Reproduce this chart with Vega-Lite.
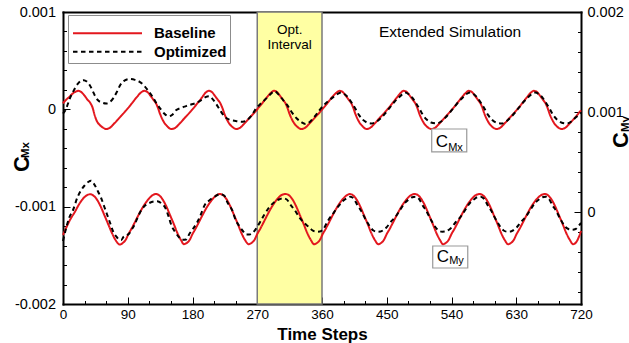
{
  "$schema": "https://vega.github.io/schema/vega-lite/v6.json",
  "description": "Moment coefficients CMx (left axis) and CMy (right axis) of the baseline and optimized runs over 720 time steps.",
  "width": 518,
  "height": 292,
  "autosize": {"type": "none"},
  "padding": {"left": 63, "top": 12, "right": 48, "bottom": 39},
  "config": {
    "view": {"stroke": null},
    "font": "Liberation Sans",
    "text": {"font": "Liberation Sans", "color": "black"},
    "axis": {
      "domainColor": "black", "domainWidth": 2, "domainCap": "square",
      "tickColor": "black", "tickWidth": 1,
      "labelColor": "black", "labelFont": "Liberation Sans", "labelFontSize": 13.5,
      "labelFlush": false, "labelOverlap": false, "grid": false, "zindex": 1,
      "titleColor": "black", "titleFont": "Liberation Sans"
    },
    "legend": {
      "orient": "none", "legendX": 5, "legendY": 3,
      "symbolType": "stroke", "symbolSize": 4761, "symbolStrokeWidth": 2,
      "clipHeight": 16, "rowPadding": 2.4, "padding": 3,
      "symbolOffset": 1, "labelOffset": 11,
      "labelFont": "Liberation Sans", "labelFontSize": 15, "labelFontWeight": "bold", "labelColor": "black",
      "titleFontSize": 4, "titlePadding": 3.3,
      "fillColor": "white", "strokeColor": "#8c8c8c"
    }
  },
  "datasets": {
    "cmx": [
      {"s":"Baseline","t":0,"v":0.000062},{"s":"Baseline","t":4,"v":0.000095},{"s":"Baseline","t":9,"v":0.00013},{"s":"Baseline","t":14,"v":0.000165},{"s":"Baseline","t":18,"v":0.000183},{"s":"Baseline","t":21,"v":0.00019},{"s":"Baseline","t":25,"v":0.00018},{"s":"Baseline","t":30,"v":0.00014},{"s":"Baseline","t":34,"v":0.0001},{"s":"Baseline","t":38,"v":0.000065},{"s":"Baseline","t":41,"v":0.00002},{"s":"Baseline","t":44,"v":-0.00006},{"s":"Baseline","t":47,"v":-0.00012},{"s":"Baseline","t":51,"v":-0.00016},{"s":"Baseline","t":55,"v":-0.000185},{"s":"Baseline","t":60,"v":-0.000202},{"s":"Baseline","t":65,"v":-0.00019},{"s":"Baseline","t":70,"v":-0.000155},{"s":"Baseline","t":78,"v":-0.00009},{"s":"Baseline","t":86,"v":-0.000025},{"s":"Baseline","t":94,"v":0.000045},{"s":"Baseline","t":102,"v":0.00012},{"s":"Baseline","t":108,"v":0.00017},
      {"s":"Baseline","t":113,"v":0.00019},{"s":"Baseline","t":117,"v":0.00018},{"s":"Baseline","t":122,"v":0.000135},{"s":"Baseline","t":126,"v":0.000095},{"s":"Baseline","t":129,"v":0.000065},{"s":"Baseline","t":132,"v":0.000015},{"s":"Baseline","t":135,"v":-0.00005},{"s":"Baseline","t":138,"v":-0.0001},{"s":"Baseline","t":141,"v":-0.00014},{"s":"Baseline","t":145,"v":-0.000175},{"s":"Baseline","t":148,"v":-0.000195},{"s":"Baseline","t":151,"v":-0.000202},{"s":"Baseline","t":156,"v":-0.00019},{"s":"Baseline","t":161,"v":-0.000155},{"s":"Baseline","t":169,"v":-0.00009},{"s":"Baseline","t":177,"v":-0.000025},{"s":"Baseline","t":185,"v":0.000045},{"s":"Baseline","t":193,"v":0.00012},{"s":"Baseline","t":198,"v":0.00017},
      {"s":"Baseline","t":202.5,"v":0.00019},{"s":"Baseline","t":206.5,"v":0.00018},{"s":"Baseline","t":211.5,"v":0.000135},{"s":"Baseline","t":215.5,"v":0.000095},{"s":"Baseline","t":218.5,"v":0.000065},{"s":"Baseline","t":221.5,"v":0.000015},{"s":"Baseline","t":224.5,"v":-0.00005},{"s":"Baseline","t":227.5,"v":-0.0001},{"s":"Baseline","t":230.5,"v":-0.00014},{"s":"Baseline","t":234.5,"v":-0.000175},{"s":"Baseline","t":238,"v":-0.000195},{"s":"Baseline","t":241,"v":-0.000202},{"s":"Baseline","t":246,"v":-0.00019},{"s":"Baseline","t":251,"v":-0.000155},{"s":"Baseline","t":259,"v":-0.00009},{"s":"Baseline","t":267,"v":-0.000025},{"s":"Baseline","t":275,"v":0.000045},{"s":"Baseline","t":283,"v":0.00012},{"s":"Baseline","t":289,"v":0.00017},
      {"s":"Baseline","t":293,"v":0.00019},{"s":"Baseline","t":297,"v":0.00018},{"s":"Baseline","t":302,"v":0.000135},{"s":"Baseline","t":306,"v":0.000095},{"s":"Baseline","t":309,"v":0.000065},{"s":"Baseline","t":312,"v":0.000015},{"s":"Baseline","t":315,"v":-0.00005},{"s":"Baseline","t":318,"v":-0.0001},{"s":"Baseline","t":321,"v":-0.00014},{"s":"Baseline","t":325,"v":-0.000175},{"s":"Baseline","t":328.5,"v":-0.000195},{"s":"Baseline","t":331.5,"v":-0.000202},{"s":"Baseline","t":336.5,"v":-0.00019},{"s":"Baseline","t":341.5,"v":-0.000155},{"s":"Baseline","t":349.5,"v":-0.00009},{"s":"Baseline","t":357.5,"v":-0.000025},{"s":"Baseline","t":365.5,"v":0.000045},{"s":"Baseline","t":373.5,"v":0.00012},{"s":"Baseline","t":380,"v":0.00017},
      {"s":"Baseline","t":384.5,"v":0.00019},{"s":"Baseline","t":388.5,"v":0.00018},{"s":"Baseline","t":393.5,"v":0.000135},{"s":"Baseline","t":397.5,"v":0.000095},{"s":"Baseline","t":400.5,"v":0.000065},{"s":"Baseline","t":403.5,"v":0.000015},{"s":"Baseline","t":406.5,"v":-0.00005},{"s":"Baseline","t":409.5,"v":-0.0001},{"s":"Baseline","t":412.5,"v":-0.00014},{"s":"Baseline","t":416.5,"v":-0.000175},{"s":"Baseline","t":419.5,"v":-0.000195},{"s":"Baseline","t":422,"v":-0.000202},{"s":"Baseline","t":427,"v":-0.00019},{"s":"Baseline","t":432,"v":-0.000155},{"s":"Baseline","t":440,"v":-0.00009},{"s":"Baseline","t":448,"v":-0.000025},{"s":"Baseline","t":456,"v":0.000045},{"s":"Baseline","t":464,"v":0.00012},{"s":"Baseline","t":469.5,"v":0.00017},
      {"s":"Baseline","t":473.5,"v":0.00019},{"s":"Baseline","t":477.5,"v":0.00018},{"s":"Baseline","t":482.5,"v":0.000135},{"s":"Baseline","t":486.5,"v":0.000095},{"s":"Baseline","t":489.5,"v":0.000065},{"s":"Baseline","t":492.5,"v":0.000015},{"s":"Baseline","t":495.5,"v":-0.00005},{"s":"Baseline","t":498.5,"v":-0.0001},{"s":"Baseline","t":501.5,"v":-0.00014},{"s":"Baseline","t":505.5,"v":-0.000175},{"s":"Baseline","t":509,"v":-0.000195},{"s":"Baseline","t":512,"v":-0.000202},{"s":"Baseline","t":517,"v":-0.00019},{"s":"Baseline","t":522,"v":-0.000155},{"s":"Baseline","t":530,"v":-0.00009},{"s":"Baseline","t":538,"v":-0.000025},{"s":"Baseline","t":546,"v":0.000045},{"s":"Baseline","t":554,"v":0.00012},{"s":"Baseline","t":560,"v":0.00017},
      {"s":"Baseline","t":564,"v":0.00019},{"s":"Baseline","t":568,"v":0.00018},{"s":"Baseline","t":573,"v":0.000135},{"s":"Baseline","t":577,"v":0.000095},{"s":"Baseline","t":580,"v":0.000065},{"s":"Baseline","t":583,"v":0.000015},{"s":"Baseline","t":586,"v":-0.00005},{"s":"Baseline","t":589,"v":-0.0001},{"s":"Baseline","t":592,"v":-0.00014},{"s":"Baseline","t":596,"v":-0.000175},{"s":"Baseline","t":599.5,"v":-0.000195},{"s":"Baseline","t":602.5,"v":-0.000202},{"s":"Baseline","t":607.5,"v":-0.00019},{"s":"Baseline","t":612.5,"v":-0.000155},{"s":"Baseline","t":620.5,"v":-0.00009},{"s":"Baseline","t":628.5,"v":-0.000025},{"s":"Baseline","t":636.5,"v":0.000045},{"s":"Baseline","t":644.5,"v":0.00012},{"s":"Baseline","t":650,"v":0.00017},
      {"s":"Baseline","t":654.5,"v":0.00019},{"s":"Baseline","t":658.5,"v":0.00018},{"s":"Baseline","t":663.5,"v":0.000135},{"s":"Baseline","t":667.5,"v":0.000095},{"s":"Baseline","t":670.5,"v":0.000065},{"s":"Baseline","t":673.5,"v":0.000015},{"s":"Baseline","t":676.5,"v":-0.00005},{"s":"Baseline","t":679.5,"v":-0.0001},{"s":"Baseline","t":682.5,"v":-0.00014},{"s":"Baseline","t":686.5,"v":-0.000175},{"s":"Baseline","t":690,"v":-0.000195},{"s":"Baseline","t":693,"v":-0.000202},{"s":"Baseline","t":698,"v":-0.00019},{"s":"Baseline","t":703,"v":-0.000155},{"s":"Baseline","t":711,"v":-0.00009},{"s":"Baseline","t":720,"v":-0.00001},

      {"s":"Optimized","t":0,"v":-0.000045},{"s":"Optimized","t":4,"v":0},{"s":"Optimized","t":7,"v":0.00006},{"s":"Optimized","t":10,"v":0.00012},{"s":"Optimized","t":14,"v":0.00018},{"s":"Optimized","t":18,"v":0.000235},{"s":"Optimized","t":22,"v":0.000275},{"s":"Optimized","t":26,"v":0.000297},{"s":"Optimized","t":29,"v":0.0003},{"s":"Optimized","t":33,"v":0.000285},{"s":"Optimized","t":37,"v":0.00025},{"s":"Optimized","t":41,"v":0.000195},{"s":"Optimized","t":45,"v":0.00013},{"s":"Optimized","t":49,"v":0.00009},{"s":"Optimized","t":54,"v":0.00007},{"s":"Optimized","t":60,"v":0.00006},{"s":"Optimized","t":65,"v":0.000075},{"s":"Optimized","t":70,"v":0.000115},{"s":"Optimized","t":75,"v":0.00018},{"s":"Optimized","t":80,"v":0.000255},{"s":"Optimized","t":86,"v":0.000298},{"s":"Optimized","t":92,"v":0.000312},{"s":"Optimized","t":100,"v":0.000303},{"s":"Optimized","t":106,"v":0.000285},{"s":"Optimized","t":112,"v":0.00025},{"s":"Optimized","t":118,"v":0.000195},{"s":"Optimized","t":124,"v":0.000135},{"s":"Optimized","t":130,"v":0.00006},{"s":"Optimized","t":136,"v":0},{"s":"Optimized","t":141,"v":-0.000045},{"s":"Optimized","t":147,"v":-0.000072},{"s":"Optimized","t":152,"v":-0.000055},{"s":"Optimized","t":157,"v":-0.00001},{"s":"Optimized","t":164,"v":0.000015},{"s":"Optimized","t":171,"v":0.000033},{"s":"Optimized","t":178,"v":0.00005},{"s":"Optimized","t":185,"v":0.000065},{"s":"Optimized","t":192,"v":0.000095},{"s":"Optimized","t":198,"v":0.000125},{"s":"Optimized","t":203,"v":0.000135},{"s":"Optimized","t":208,"v":0.000105},{"s":"Optimized","t":213,"v":0.000055},{"s":"Optimized","t":218,"v":-0.000005},{"s":"Optimized","t":224,"v":-0.00007},{"s":"Optimized","t":231,"v":-0.000105},{"s":"Optimized","t":240,"v":-0.00012},{"s":"Optimized","t":250,"v":-0.000127},{"s":"Optimized","t":256,"v":-0.00011},{"s":"Optimized","t":262,"v":-0.000065},{"s":"Optimized","t":268,"v":0.000005},{"s":"Optimized","t":275,"v":0.00006},{"s":"Optimized","t":283,"v":0.000115},{"s":"Optimized","t":289,"v":0.00016},{"s":"Optimized","t":294,"v":0.000185},{"s":"Optimized","t":300,"v":0.00015},{"s":"Optimized","t":306,"v":0.000095},{"s":"Optimized","t":312,"v":0.00004},{"s":"Optimized","t":318,"v":-0.00003},{"s":"Optimized","t":325,"v":-0.000095},{"s":"Optimized","t":331,"v":-0.00013},{"s":"Optimized","t":337,"v":-0.00015},{"s":"Optimized","t":343,"v":-0.00013},{"s":"Optimized","t":348,"v":-0.00009},{"s":"Optimized","t":353,"v":-0.000045},{"s":"Optimized","t":358,"v":0.000005},{"s":"Optimized","t":365,"v":0.00006},{"s":"Optimized","t":373,"v":0.00011},{"s":"Optimized","t":380,"v":0.00015},
      {"s":"Optimized","t":386.5,"v":0.000172},{"s":"Optimized","t":391.5,"v":0.000155},{"s":"Optimized","t":396.5,"v":0.00012},{"s":"Optimized","t":401.5,"v":0.000065},{"s":"Optimized","t":406.5,"v":0.000005},{"s":"Optimized","t":411.5,"v":-0.00006},{"s":"Optimized","t":416.5,"v":-0.000105},{"s":"Optimized","t":422.5,"v":-0.000135},{"s":"Optimized","t":428,"v":-0.000145},{"s":"Optimized","t":435,"v":-0.00013},{"s":"Optimized","t":442.5,"v":-0.000085},{"s":"Optimized","t":448.5,"v":-0.000035},{"s":"Optimized","t":454.5,"v":0.00002},{"s":"Optimized","t":460.5,"v":0.000075},{"s":"Optimized","t":466.5,"v":0.00012},{"s":"Optimized","t":472.5,"v":0.00016},
      {"s":"Optimized","t":475.5,"v":0.000172},{"s":"Optimized","t":480.5,"v":0.000155},{"s":"Optimized","t":485.5,"v":0.00012},{"s":"Optimized","t":490.5,"v":0.000065},{"s":"Optimized","t":495.5,"v":0.000005},{"s":"Optimized","t":500.5,"v":-0.00006},{"s":"Optimized","t":505.5,"v":-0.000105},{"s":"Optimized","t":511.5,"v":-0.000135},{"s":"Optimized","t":519.5,"v":-0.000145},{"s":"Optimized","t":525.5,"v":-0.000125},{"s":"Optimized","t":531.5,"v":-0.000085},{"s":"Optimized","t":537.5,"v":-0.000035},{"s":"Optimized","t":543.5,"v":0.00002},{"s":"Optimized","t":549.5,"v":0.000075},{"s":"Optimized","t":555.5,"v":0.00012},{"s":"Optimized","t":561.5,"v":0.00016},
      {"s":"Optimized","t":566,"v":0.000172},{"s":"Optimized","t":571,"v":0.000155},{"s":"Optimized","t":576,"v":0.00012},{"s":"Optimized","t":581,"v":0.000065},{"s":"Optimized","t":586,"v":0.000005},{"s":"Optimized","t":591,"v":-0.00006},{"s":"Optimized","t":596,"v":-0.000105},{"s":"Optimized","t":602,"v":-0.000135},{"s":"Optimized","t":610,"v":-0.000145},{"s":"Optimized","t":616,"v":-0.000125},{"s":"Optimized","t":622,"v":-0.000085},{"s":"Optimized","t":628,"v":-0.000035},{"s":"Optimized","t":634,"v":0.00002},{"s":"Optimized","t":640,"v":0.000075},{"s":"Optimized","t":646,"v":0.00012},{"s":"Optimized","t":652,"v":0.00016},
      {"s":"Optimized","t":656.5,"v":0.000172},{"s":"Optimized","t":661.5,"v":0.000155},{"s":"Optimized","t":666.5,"v":0.00012},{"s":"Optimized","t":671.5,"v":0.000065},{"s":"Optimized","t":676.5,"v":0.000005},{"s":"Optimized","t":681.5,"v":-0.00006},{"s":"Optimized","t":686.5,"v":-0.000105},{"s":"Optimized","t":692.5,"v":-0.000135},{"s":"Optimized","t":700.5,"v":-0.000145},{"s":"Optimized","t":706.5,"v":-0.000125},{"s":"Optimized","t":712.5,"v":-0.000085},{"s":"Optimized","t":720,"v":-0.000035}
    ],
    "cmy": [
      {"s":"Baseline","t":0,"v":-0.00023},{"s":"Baseline","t":5,"v":-0.00015},{"s":"Baseline","t":10,"v":-0.000075},{"s":"Baseline","t":16,"v":-0.000005},{"s":"Baseline","t":23,"v":0.000085},{"s":"Baseline","t":30,"v":0.00015},{"s":"Baseline","t":38,"v":0.000178},{"s":"Baseline","t":43,"v":0.00016},{"s":"Baseline","t":48,"v":0.000115},{"s":"Baseline","t":53,"v":0.000045},{"s":"Baseline","t":58,"v":-0.00004},{"s":"Baseline","t":63,"v":-0.000125},{"s":"Baseline","t":68,"v":-0.00021},{"s":"Baseline","t":73,"v":-0.00028},{"s":"Baseline","t":79,"v":-0.000325},{"s":"Baseline","t":83,"v":-0.00031},{"s":"Baseline","t":87,"v":-0.00028},{"s":"Baseline","t":91,"v":-0.00022},{"s":"Baseline","t":95,"v":-0.00017},{"s":"Baseline","t":99,"v":-0.000115},{"s":"Baseline","t":105,"v":-0.00003},{"s":"Baseline","t":112,"v":0.00006},{"s":"Baseline","t":119,"v":0.00013},{"s":"Baseline","t":125,"v":0.00017},
      {"s":"Baseline","t":129,"v":0.00018},{"s":"Baseline","t":134,"v":0.000165},{"s":"Baseline","t":139,"v":0.00012},{"s":"Baseline","t":144,"v":0.00005},{"s":"Baseline","t":149,"v":-0.000035},{"s":"Baseline","t":154,"v":-0.00012},{"s":"Baseline","t":159,"v":-0.00021},{"s":"Baseline","t":164,"v":-0.00028},{"s":"Baseline","t":168,"v":-0.000322},{"s":"Baseline","t":172,"v":-0.00031},{"s":"Baseline","t":176,"v":-0.00028},{"s":"Baseline","t":180,"v":-0.00022},{"s":"Baseline","t":184,"v":-0.00017},{"s":"Baseline","t":188,"v":-0.000115},{"s":"Baseline","t":194,"v":-0.00003},{"s":"Baseline","t":201,"v":0.00006},{"s":"Baseline","t":208,"v":0.00013},{"s":"Baseline","t":214,"v":0.00017},
      {"s":"Baseline","t":218,"v":0.00018},{"s":"Baseline","t":223,"v":0.000165},{"s":"Baseline","t":228,"v":0.00012},{"s":"Baseline","t":233,"v":0.00005},{"s":"Baseline","t":238,"v":-0.000035},{"s":"Baseline","t":243,"v":-0.00012},{"s":"Baseline","t":248,"v":-0.00021},{"s":"Baseline","t":253,"v":-0.00028},{"s":"Baseline","t":258,"v":-0.000322},{"s":"Baseline","t":262,"v":-0.00031},{"s":"Baseline","t":266,"v":-0.00028},{"s":"Baseline","t":270,"v":-0.00022},{"s":"Baseline","t":274,"v":-0.00017},{"s":"Baseline","t":278,"v":-0.000115},{"s":"Baseline","t":284,"v":-0.00003},{"s":"Baseline","t":291,"v":0.00006},{"s":"Baseline","t":298,"v":0.00013},{"s":"Baseline","t":304,"v":0.00017},
      {"s":"Baseline","t":309.5,"v":0.00018},{"s":"Baseline","t":314.5,"v":0.000165},{"s":"Baseline","t":319.5,"v":0.00012},{"s":"Baseline","t":324.5,"v":0.00005},{"s":"Baseline","t":329.5,"v":-0.000035},{"s":"Baseline","t":334.5,"v":-0.00012},{"s":"Baseline","t":339.5,"v":-0.00021},{"s":"Baseline","t":344.5,"v":-0.00028},{"s":"Baseline","t":349,"v":-0.000322},{"s":"Baseline","t":353,"v":-0.00031},{"s":"Baseline","t":357,"v":-0.00028},{"s":"Baseline","t":361,"v":-0.00022},{"s":"Baseline","t":365,"v":-0.00017},{"s":"Baseline","t":369,"v":-0.000115},{"s":"Baseline","t":375,"v":-0.00003},{"s":"Baseline","t":382,"v":0.00006},{"s":"Baseline","t":389,"v":0.00013},{"s":"Baseline","t":395,"v":0.00017},
      {"s":"Baseline","t":398.5,"v":0.00018},{"s":"Baseline","t":403.5,"v":0.000165},{"s":"Baseline","t":408.5,"v":0.00012},{"s":"Baseline","t":413.5,"v":0.00005},{"s":"Baseline","t":418.5,"v":-0.000035},{"s":"Baseline","t":423.5,"v":-0.00012},{"s":"Baseline","t":428.5,"v":-0.00021},{"s":"Baseline","t":433.5,"v":-0.00028},{"s":"Baseline","t":438,"v":-0.000322},{"s":"Baseline","t":442,"v":-0.00031},{"s":"Baseline","t":446,"v":-0.00028},{"s":"Baseline","t":450,"v":-0.00022},{"s":"Baseline","t":454,"v":-0.00017},{"s":"Baseline","t":458,"v":-0.000115},{"s":"Baseline","t":464,"v":-0.00003},{"s":"Baseline","t":471,"v":0.00006},{"s":"Baseline","t":478,"v":0.00013},{"s":"Baseline","t":484,"v":0.00017},
      {"s":"Baseline","t":489,"v":0.00018},{"s":"Baseline","t":494,"v":0.000165},{"s":"Baseline","t":499,"v":0.00012},{"s":"Baseline","t":504,"v":0.00005},{"s":"Baseline","t":509,"v":-0.000035},{"s":"Baseline","t":514,"v":-0.00012},{"s":"Baseline","t":519,"v":-0.00021},{"s":"Baseline","t":524,"v":-0.00028},{"s":"Baseline","t":528,"v":-0.000322},{"s":"Baseline","t":532,"v":-0.00031},{"s":"Baseline","t":536,"v":-0.00028},{"s":"Baseline","t":540,"v":-0.00022},{"s":"Baseline","t":544,"v":-0.00017},{"s":"Baseline","t":548,"v":-0.000115},{"s":"Baseline","t":554,"v":-0.00003},{"s":"Baseline","t":561,"v":0.00006},{"s":"Baseline","t":568,"v":0.00013},{"s":"Baseline","t":574,"v":0.00017},
      {"s":"Baseline","t":579,"v":0.00018},{"s":"Baseline","t":584,"v":0.000165},{"s":"Baseline","t":589,"v":0.00012},{"s":"Baseline","t":594,"v":0.00005},{"s":"Baseline","t":599,"v":-0.000035},{"s":"Baseline","t":604,"v":-0.00012},{"s":"Baseline","t":609,"v":-0.00021},{"s":"Baseline","t":614,"v":-0.00028},{"s":"Baseline","t":618.5,"v":-0.000322},{"s":"Baseline","t":622.5,"v":-0.00031},{"s":"Baseline","t":626.5,"v":-0.00028},{"s":"Baseline","t":630.5,"v":-0.00022},{"s":"Baseline","t":634.5,"v":-0.00017},{"s":"Baseline","t":638.5,"v":-0.000115},{"s":"Baseline","t":644.5,"v":-0.00003},{"s":"Baseline","t":651.5,"v":0.00006},{"s":"Baseline","t":658.5,"v":0.00013},{"s":"Baseline","t":665,"v":0.00017},
      {"s":"Baseline","t":669.5,"v":0.00018},{"s":"Baseline","t":674.5,"v":0.000165},{"s":"Baseline","t":679.5,"v":0.00012},{"s":"Baseline","t":684.5,"v":0.00005},{"s":"Baseline","t":689.5,"v":-0.000035},{"s":"Baseline","t":694.5,"v":-0.00012},{"s":"Baseline","t":699.5,"v":-0.00021},{"s":"Baseline","t":704.5,"v":-0.00028},{"s":"Baseline","t":709,"v":-0.000322},{"s":"Baseline","t":713,"v":-0.000305},{"s":"Baseline","t":717,"v":-0.00025},{"s":"Baseline","t":720,"v":-0.00019},

      {"s":"Optimized","t":0,"v":-0.00029},{"s":"Optimized","t":4,"v":-0.00017},{"s":"Optimized","t":9,"v":-0.00005},{"s":"Optimized","t":14,"v":0.00002},{"s":"Optimized","t":20,"v":0.000145},{"s":"Optimized","t":25,"v":0.000215},{"s":"Optimized","t":30,"v":0.000265},{"s":"Optimized","t":35,"v":0.0003},{"s":"Optimized","t":39,"v":0.000313},{"s":"Optimized","t":44,"v":0.00027},{"s":"Optimized","t":49,"v":0.0002},{"s":"Optimized","t":53,"v":0.00014},{"s":"Optimized","t":57,"v":0.00006},{"s":"Optimized","t":61,"v":-0.00002},{"s":"Optimized","t":65,"v":-0.0001},{"s":"Optimized","t":70,"v":-0.0002},{"s":"Optimized","t":74,"v":-0.000245},{"s":"Optimized","t":78,"v":-0.000275},{"s":"Optimized","t":81,"v":-0.00028},{"s":"Optimized","t":84,"v":-0.00025},{"s":"Optimized","t":88,"v":-0.000235},{"s":"Optimized","t":92,"v":-0.000215},{"s":"Optimized","t":96,"v":-0.00017},{"s":"Optimized","t":100,"v":-0.00012},{"s":"Optimized","t":104,"v":-0.00005},{"s":"Optimized","t":109,"v":0.00002},{"s":"Optimized","t":114,"v":0.000065},{"s":"Optimized","t":120,"v":0.00009},{"s":"Optimized","t":126,"v":0.000105},{"s":"Optimized","t":131,"v":0.000108},{"s":"Optimized","t":137,"v":0.000085},{"s":"Optimized","t":142,"v":0.000045},{"s":"Optimized","t":147,"v":-0.00005},{"s":"Optimized","t":151,"v":-0.00014},{"s":"Optimized","t":156,"v":-0.0002},{"s":"Optimized","t":161,"v":-0.00025},{"s":"Optimized","t":166,"v":-0.000278},{"s":"Optimized","t":171,"v":-0.000275},{"s":"Optimized","t":176,"v":-0.000215},{"s":"Optimized","t":181,"v":-0.000165},{"s":"Optimized","t":186,"v":-0.00011},{"s":"Optimized","t":191,"v":-0.000035},{"s":"Optimized","t":197,"v":0.00007},{"s":"Optimized","t":204,"v":0.00012},{"s":"Optimized","t":211,"v":0.000155},{"s":"Optimized","t":218,"v":0.000178},{"s":"Optimized","t":224,"v":0.000165},{"s":"Optimized","t":229,"v":0.00009},{"s":"Optimized","t":235,"v":0.00002},{"s":"Optimized","t":240,"v":-0.00008},{"s":"Optimized","t":245,"v":-0.00014},{"s":"Optimized","t":250,"v":-0.00019},{"s":"Optimized","t":255,"v":-0.000225},{"s":"Optimized","t":259,"v":-0.000225},{"s":"Optimized","t":263,"v":-0.000213},{"s":"Optimized","t":268,"v":-0.00017},{"s":"Optimized","t":274,"v":-0.0001},{"s":"Optimized","t":280,"v":-0.000025},{"s":"Optimized","t":287,"v":0.00005},{"s":"Optimized","t":294,"v":0.0001},{"s":"Optimized","t":300,"v":0.000125},{"s":"Optimized","t":306,"v":0.000137},{"s":"Optimized","t":311,"v":0.000125},{"s":"Optimized","t":316,"v":0.000075},{"s":"Optimized","t":322,"v":0.00002},{"s":"Optimized","t":328,"v":-0.00005},{"s":"Optimized","t":334,"v":-0.0001},{"s":"Optimized","t":340,"v":-0.00014},{"s":"Optimized","t":346,"v":-0.00018},{"s":"Optimized","t":352,"v":-0.000197},{"s":"Optimized","t":357,"v":-0.000195},{"s":"Optimized","t":362,"v":-0.00017},{"s":"Optimized","t":368,"v":-0.00009},{"s":"Optimized","t":375,"v":-0.00002},{"s":"Optimized","t":382,"v":0.00005},{"s":"Optimized","t":389,"v":0.00011},{"s":"Optimized","t":395,"v":0.00014},
      {"s":"Optimized","t":399.5,"v":0.000153},{"s":"Optimized","t":404.5,"v":0.00013},{"s":"Optimized","t":409.5,"v":0.000065},{"s":"Optimized","t":414.5,"v":0.00001},{"s":"Optimized","t":419.5,"v":-0.00006},{"s":"Optimized","t":423.5,"v":-0.00011},{"s":"Optimized","t":427.5,"v":-0.000155},{"s":"Optimized","t":431.5,"v":-0.000185},{"s":"Optimized","t":436.5,"v":-0.000197},{"s":"Optimized","t":441.5,"v":-0.000195},{"s":"Optimized","t":445.5,"v":-0.00018},{"s":"Optimized","t":449.5,"v":-0.000155},{"s":"Optimized","t":455.5,"v":-0.0001},{"s":"Optimized","t":462.5,"v":-0.000045},{"s":"Optimized","t":468.5,"v":0.00002},{"s":"Optimized","t":474.5,"v":0.000085},{"s":"Optimized","t":480.5,"v":0.000125},{"s":"Optimized","t":485.5,"v":0.000148},
      {"s":"Optimized","t":490,"v":0.000153},{"s":"Optimized","t":495,"v":0.00013},{"s":"Optimized","t":500,"v":0.000065},{"s":"Optimized","t":505,"v":0.00001},{"s":"Optimized","t":510,"v":-0.00006},{"s":"Optimized","t":514,"v":-0.00011},{"s":"Optimized","t":518,"v":-0.000155},{"s":"Optimized","t":522,"v":-0.000185},{"s":"Optimized","t":527,"v":-0.000197},{"s":"Optimized","t":532,"v":-0.000195},{"s":"Optimized","t":536,"v":-0.00018},{"s":"Optimized","t":540,"v":-0.000155},{"s":"Optimized","t":546,"v":-0.0001},{"s":"Optimized","t":553,"v":-0.000045},{"s":"Optimized","t":559,"v":0.00002},{"s":"Optimized","t":565,"v":0.000085},{"s":"Optimized","t":571,"v":0.000125},{"s":"Optimized","t":576,"v":0.000148},
      {"s":"Optimized","t":580.5,"v":0.000153},{"s":"Optimized","t":585.5,"v":0.00013},{"s":"Optimized","t":590.5,"v":0.000065},{"s":"Optimized","t":595.5,"v":0.00001},{"s":"Optimized","t":600.5,"v":-0.00006},{"s":"Optimized","t":604.5,"v":-0.00011},{"s":"Optimized","t":608.5,"v":-0.000155},{"s":"Optimized","t":612.5,"v":-0.000185},{"s":"Optimized","t":617.5,"v":-0.000197},{"s":"Optimized","t":622.5,"v":-0.000195},{"s":"Optimized","t":626.5,"v":-0.00018},{"s":"Optimized","t":630.5,"v":-0.000155},{"s":"Optimized","t":636.5,"v":-0.0001},{"s":"Optimized","t":643.5,"v":-0.000045},{"s":"Optimized","t":649.5,"v":0.00002},{"s":"Optimized","t":655.5,"v":0.000085},{"s":"Optimized","t":661.5,"v":0.000125},{"s":"Optimized","t":666.5,"v":0.000148},
      {"s":"Optimized","t":670.5,"v":0.000153},{"s":"Optimized","t":675.5,"v":0.00013},{"s":"Optimized","t":680.5,"v":0.000065},{"s":"Optimized","t":685.5,"v":0.00001},{"s":"Optimized","t":690.5,"v":-0.00006},{"s":"Optimized","t":694.5,"v":-0.00011},{"s":"Optimized","t":698.5,"v":-0.00015},{"s":"Optimized","t":702.5,"v":-0.00017},{"s":"Optimized","t":707.5,"v":-0.000178},{"s":"Optimized","t":712.5,"v":-0.00017},{"s":"Optimized","t":716.5,"v":-0.00014},{"s":"Optimized","t":720,"v":-0.00011}
    ]
  },
  "layer": [
    {
      "data": {"values": [{"start": 270, "end": 360}]},
      "mark": {"type": "rect", "fill": "#ffffa3", "stroke": "#7a7a7a", "strokeWidth": 1.5},
      "encoding": {
        "x": {"field": "start", "type": "quantitative", "scale": {"domain": [0, 720], "nice": false, "zero": false}, "axis": null},
        "x2": {"field": "end"}
      }
    },
    {
      "data": {"name": "cmx"},
      "mark": {"type": "line", "interpolate": "monotone", "strokeWidth": 2},
      "encoding": {
        "x": {
          "field": "t", "type": "quantitative",
          "scale": {"domain": [0, 720], "nice": false, "zero": false},
          "axis": {
            "orient": "bottom",
            "values": [0, 30, 60, 90, 120, 150, 180, 210, 240, 270, 300, 330, 360, 390, 420, 450, 480, 510, 540, 570, 600, 630, 660, 690, 720],
            "format": "d",
            "labelExpr": "datum.value % 90 === 0 ? datum.label : ''",
            "tickSize": {"condition": {"test": "datum.value % 90 === 0", "value": -7}, "value": -3.5},
            "labelPadding": 10.5,
            "title": "Time Steps", "titleFontSize": 17, "titleFontWeight": "bold", "titlePadding": 2
          }
        },
        "y": {
          "field": "v", "type": "quantitative",
          "scale": {"domain": [-0.002, 0.001], "nice": false, "zero": false},
          "axis": {
            "orient": "left",
            "values": [-0.002, -0.0018, -0.0016, -0.0014, -0.0012, -0.001, -0.0008, -0.0006, -0.0004, -0.0002, 0, 0.0002, 0.0004, 0.0006, 0.0008, 0.001],
            "labelExpr": "abs(datum.value * 1000 - round(datum.value * 1000)) < 0.000001 ? '' + round(datum.value * 1000) / 1000 : ''",
            "tickSize": {"condition": {"test": "abs(datum.value * 1000 - round(datum.value * 1000)) < 0.000001", "value": -7}, "value": -3.5},
            "labelFontSize": 14.5,
            "labelPadding": 14.5,
            "title": null
          }
        },
        "color": {
          "field": "s", "type": "nominal",
          "scale": {"domain": ["Baseline", "Optimized"], "range": ["#e3171e", "#000000"]},
          "legend": {"title": " "}
        },
        "strokeDash": {
          "field": "s", "type": "nominal",
          "scale": {"domain": ["Baseline", "Optimized"], "range": [[1, 0], [4.5, 3.5]]},
          "legend": {"title": " "}
        }
      }
    },
    {
      "data": {"name": "cmy"},
      "mark": {"type": "line", "interpolate": "monotone", "strokeWidth": 2},
      "encoding": {
        "x": {
          "field": "t", "type": "quantitative",
          "scale": {"domain": [0, 720], "nice": false, "zero": false},
          "axis": {"orient": "top", "labels": false, "ticks": false, "title": null, "domain": true}
        },
        "y": {
          "field": "v", "type": "quantitative",
          "scale": {"domain": [-0.00092, 0.002], "nice": false, "zero": false},
          "axis": {
            "orient": "right",
            "values": [-0.0008, -0.0006, -0.0004, -0.0002, 0, 0.0002, 0.0004, 0.0006, 0.0008, 0.001, 0.0012, 0.0014, 0.0016, 0.0018, 0.002],
            "labelExpr": "abs(datum.value * 1000 - round(datum.value * 1000)) < 0.000001 ? '' + round(datum.value * 1000) / 1000 : ''",
            "tickSize": {"condition": {"test": "abs(datum.value * 1000 - round(datum.value * 1000)) < 0.000001", "value": -7}, "value": -3.5},
            "labelFontSize": 14.5,
            "labelPadding": 13,
            "title": null
          }
        },
        "color": {
          "field": "s", "type": "nominal",
          "scale": {"domain": ["Baseline", "Optimized"], "range": ["#e3171e", "#000000"]},
          "legend": {"title": " "}
        },
        "strokeDash": {
          "field": "s", "type": "nominal",
          "scale": {"domain": ["Baseline", "Optimized"], "range": [[1, 0], [4.5, 3.5]]},
          "legend": {"title": " "}
        }
      }
    },
    {
      "data": {"values": [{}]},
      "mark": {"type": "rect", "fill": "white", "stroke": "#999999", "strokeWidth": 1.2},
      "encoding": {
        "x": {"datum": 512.5, "axis": null}, "x2": {"datum": 561.2},
        "y": {"datum": -0.000202, "scale": {"domain": [-0.002, 0.001], "nice": false, "zero": false}, "axis": null}, "y2": {"datum": -0.000438}
      }
    },
    {
      "data": {"values": [{}]},
      "mark": {"type": "rect", "fill": "white", "stroke": "#999999", "strokeWidth": 1.2},
      "encoding": {
        "x": {"datum": 513.9, "axis": null}, "x2": {"datum": 562.6},
        "y": {"datum": -0.001404, "scale": {"domain": [-0.002, 0.001], "nice": false, "zero": false}, "axis": null}, "y2": {"datum": -0.00163}
      }
    },
    {
      "data": {"values": [{}]},
      "mark": {"type": "text", "text": "C", "fontSize": 17, "align": "left", "baseline": "alphabetic"},
      "encoding": {"x": {"datum": 518.1, "axis": null}, "y": {"datum": -0.000387, "scale": {"domain": [-0.002, 0.001], "nice": false, "zero": false}, "axis": null}}
    },
    {
      "data": {"values": [{}]},
      "mark": {"type": "text", "text": "Mx", "fontSize": 11, "align": "left", "baseline": "alphabetic"},
      "encoding": {"x": {"datum": 535.4, "axis": null}, "y": {"datum": -0.000428, "scale": {"domain": [-0.002, 0.001], "nice": false, "zero": false}, "axis": null}}
    },
    {
      "data": {"values": [{}]},
      "mark": {"type": "text", "text": "C", "fontSize": 17, "align": "left", "baseline": "alphabetic"},
      "encoding": {"x": {"datum": 519.5, "axis": null}, "y": {"datum": -0.001569, "scale": {"domain": [-0.002, 0.001], "nice": false, "zero": false}, "axis": null}}
    },
    {
      "data": {"values": [{}]},
      "mark": {"type": "text", "text": "My", "fontSize": 11, "align": "left", "baseline": "alphabetic"},
      "encoding": {"x": {"datum": 536.8, "axis": null}, "y": {"datum": -0.001594, "scale": {"domain": [-0.002, 0.001], "nice": false, "zero": false}, "axis": null}}
    },
    {
      "data": {"values": [{}]},
      "mark": {"type": "text", "text": "Extended Simulation", "fontSize": 15.5, "align": "center", "baseline": "alphabetic"},
      "encoding": {"x": {"datum": 538, "axis": null}, "y": {"datum": 0.000746, "scale": {"domain": [-0.002, 0.001], "nice": false, "zero": false}, "axis": null}}
    },
    {
      "data": {"values": [{}]},
      "mark": {"type": "text", "text": ["Opt.", "Interval"], "fontSize": 13.5, "lineHeight": 15, "align": "center", "baseline": "alphabetic"},
      "encoding": {"x": {"datum": 315, "axis": null}, "y": {"datum": 0.000769, "scale": {"domain": [-0.002, 0.001], "nice": false, "zero": false}, "axis": null}}
    },
    {
      "data": {"values": [{}]},
      "mark": {"type": "text", "text": "C", "fontSize": 22, "fontWeight": "bold", "angle": 270, "align": "center", "baseline": "middle"},
      "encoding": {"x": {"datum": -57.4, "axis": null}, "y": {"datum": -0.000562, "scale": {"domain": [-0.002, 0.001], "nice": false, "zero": false}, "axis": null}}
    },
    {
      "data": {"values": [{}]},
      "mark": {"type": "text", "text": "Mx", "fontSize": 11.5, "fontWeight": "bold", "angle": 270, "align": "center", "baseline": "middle"},
      "encoding": {"x": {"datum": -50.9, "axis": null}, "y": {"datum": -0.000418, "scale": {"domain": [-0.002, 0.001], "nice": false, "zero": false}, "axis": null}}
    },
    {
      "data": {"values": [{}]},
      "mark": {"type": "text", "text": "C", "fontSize": 22, "fontWeight": "bold", "angle": 270, "align": "center", "baseline": "middle"},
      "encoding": {"x": {"datum": 775.2, "axis": null}, "y": {"datum": -0.000315, "scale": {"domain": [-0.002, 0.001], "nice": false, "zero": false}, "axis": null}}
    },
    {
      "data": {"values": [{}]},
      "mark": {"type": "text", "text": "My", "fontSize": 11.5, "fontWeight": "bold", "angle": 270, "align": "center", "baseline": "middle"},
      "encoding": {"x": {"datum": 782.2, "axis": null}, "y": {"datum": -0.000151, "scale": {"domain": [-0.002, 0.001], "nice": false, "zero": false}, "axis": null}}
    }
  ],
  "resolve": {"scale": {"y": "independent"}, "axis": {"x": "independent"}}
}
